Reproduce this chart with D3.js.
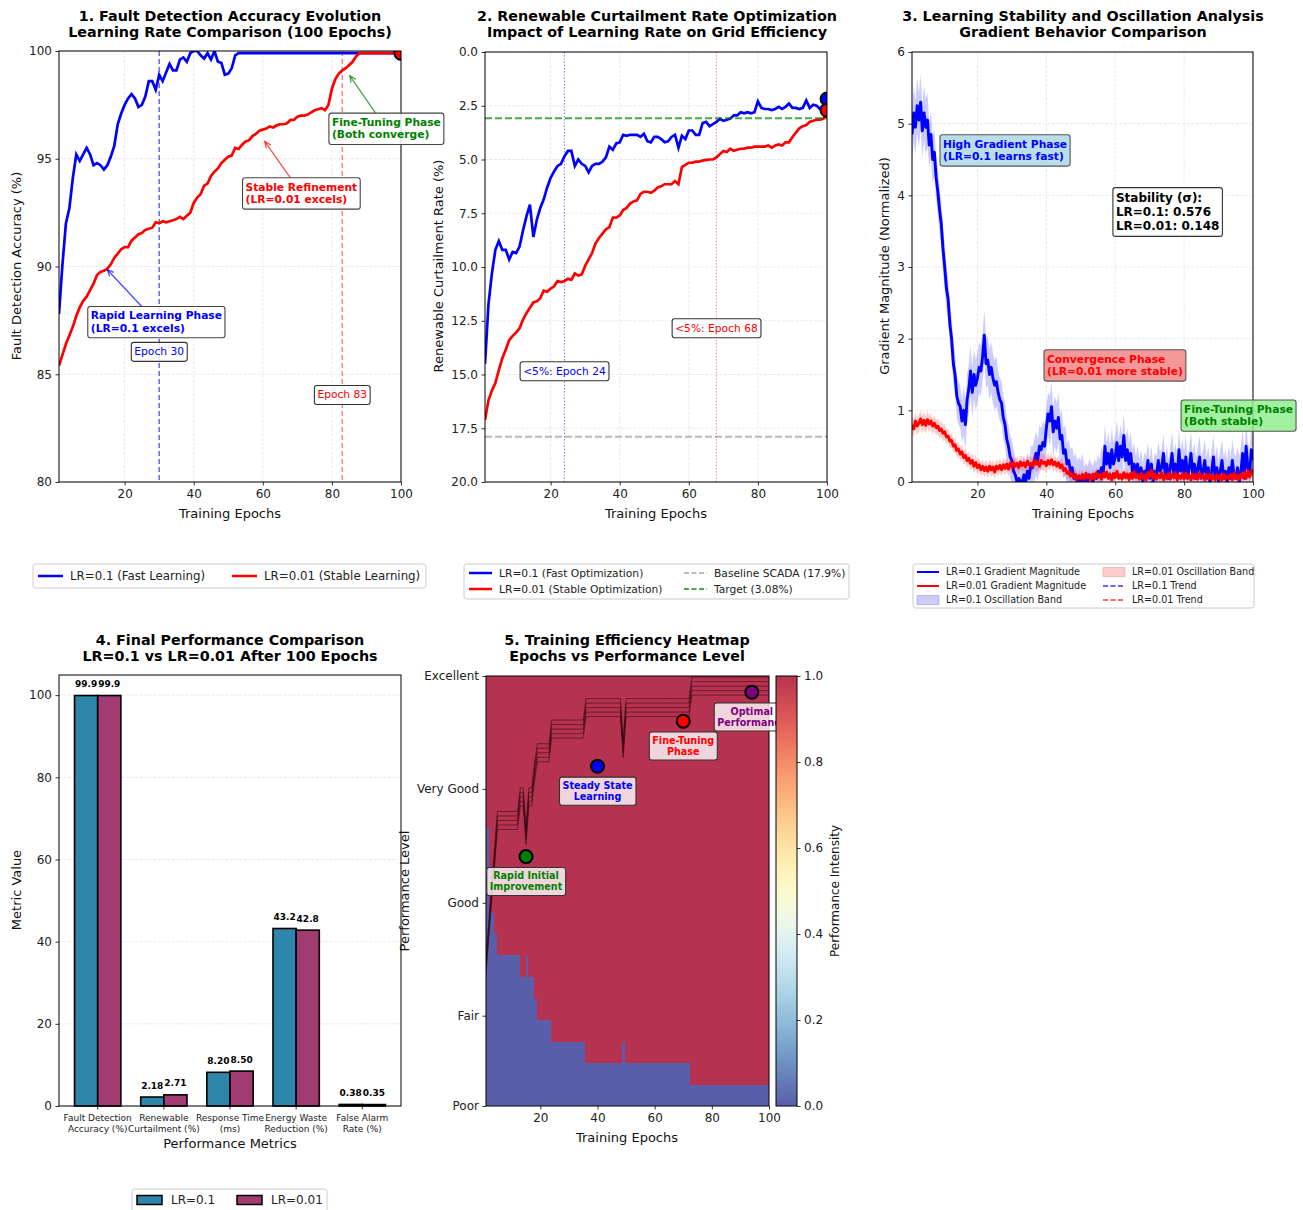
<!DOCTYPE html>
<html>
<head>
<meta charset="utf-8">
<script src="https://cdn.jsdelivr.net/npm/d3@7"></script>
<style>
  body { margin: 0; background: #fff; }
</style>
</head>
<body>
<script>
// ---------------- data ----------------
const epochs = d3.range(1, 101);
const fineEpochs = d3.range(1, 100.001, 0.5);

// 1. Fault detection accuracy (%)
const accFast = [
  87.8, 90.1, 92.0, 92.7, 94.1, 95.2, 94.9, 95.2, 95.5, 95.2,
  94.7, 94.8, 94.7, 94.5, 94.7, 95.1, 95.6, 96.6, 97.1, 97.5,
  97.8, 98.0, 97.8, 97.4, 97.5, 97.9, 98.6, 98.6, 98.2, 98.9,
  98.6, 99.0, 99.4, 99.1, 99.1, 99.6, 99.7, 99.5, 99.9, 100.0,
  100.0, 99.8, 99.65, 99.9, 99.6, 100.0, 99.5, 99.45, 98.9, 98.95,
  99.2, 99.8, 99.9, 99.9, 99.9, 99.9, 99.9, 99.9, 99.9, 99.9,
  99.9, 99.9, 99.9, 99.9, 99.9, 99.9, 99.9, 99.9, 99.9, 99.9,
  99.9, 99.9, 99.9, 99.9, 99.9, 99.9, 99.9, 99.9, 99.9, 99.9,
  99.9, 99.9, 99.9, 99.9, 99.9, 99.9, 99.9, 99.9, 99.9, 99.9,
  99.9, 99.9, 99.9, 99.9, 99.9, 99.9, 99.9, 99.9, 99.9, 99.9
];
const accStable = [
  85.4, 85.9, 86.4, 86.8, 87.2, 87.7, 88.1, 88.4, 88.6, 88.9,
  89.2, 89.6, 89.75, 89.8, 89.9, 90.1, 90.4, 90.6, 90.8, 90.9,
  90.9, 91.2, 91.35, 91.5, 91.55, 91.7, 91.75, 91.8, 92.05, 92.0,
  92.1, 92.05, 92.1, 92.15, 92.2, 92.3, 92.2, 92.35, 92.5, 92.95,
  93.2, 93.35, 93.75, 93.85, 94.2, 94.4, 94.55, 94.8, 94.95, 95.1,
  95.15, 95.5, 95.45, 95.65, 95.8, 95.85, 96.05, 96.15, 96.3, 96.35,
  96.4, 96.5, 96.45, 96.55, 96.6, 96.6, 96.65, 96.8, 96.8, 96.95,
  97.0, 97.0, 97.05, 97.15, 97.25, 97.3, 97.35, 97.25, 97.5, 98.25,
  98.7, 98.95, 99.1, 99.2, 99.35, 99.5, 99.75, 99.9, 99.9, 99.9,
  99.9, 99.9, 99.9, 99.9, 99.9, 99.9, 99.9, 99.9, 99.9, 99.9
];

// 2. Renewable curtailment rate (%)
const curtFast = [
  14.5, 11.75, 10.3, 9.2, 8.8, 9.2, 9.2, 9.65, 9.3, 9.35,
  9.05, 8.3, 7.65, 7.1, 8.6, 7.8, 7.25, 6.85, 6.3, 5.85,
  5.55, 5.3, 5.2, 4.85, 4.6, 4.6, 5.3, 5.0, 5.2, 5.3,
  5.6, 5.3, 5.2, 5.2, 5.1, 4.9, 4.4, 4.55, 4.25, 4.2,
  3.85, 3.9, 3.85, 3.85, 3.85, 3.95, 3.8, 4.15, 4.2, 3.95,
  3.95, 4.05, 4.2, 4.15, 3.95, 3.85, 4.45, 3.9, 4.05, 3.65,
  3.65, 3.85, 3.85, 3.3, 3.25, 3.45, 3.35, 3.25, 3.1, 3.2,
  3.15, 3.1, 2.95, 2.95, 2.8, 2.85, 2.8, 2.85, 2.8, 2.3,
  2.6, 2.65, 2.65, 2.7, 2.65, 2.55, 2.65, 2.55, 2.4, 2.6,
  2.6, 2.65, 2.6, 2.25, 2.6, 2.45, 2.5, 2.65, 2.45, 2.18
];
const curtStable = [
  17.1, 16.2, 15.75, 15.4, 14.8, 14.25, 13.85, 13.4, 13.2, 13.05,
  12.85, 12.45, 12.15, 11.9, 11.65, 11.6, 11.45, 11.1, 11.15, 11.0,
  10.9, 10.65, 10.7, 10.65, 10.55, 10.6, 10.3, 10.4, 10.35, 9.95,
  9.65, 9.35, 8.9, 8.65, 8.45, 8.25, 8.15, 7.7, 7.7, 7.6,
  7.35, 7.25, 7.05, 6.95, 6.9, 6.6, 6.5, 6.5, 6.55, 6.45,
  6.3, 6.25, 6.15, 6.15, 6.15, 6.0, 6.15, 5.35, 5.25, 5.15,
  5.15, 5.1, 5.1, 5.05, 5.02, 5.0, 5.0, 4.9, 4.75, 4.6,
  4.65, 4.5, 4.6, 4.55, 4.5, 4.5, 4.45, 4.45, 4.4, 4.4,
  4.4, 4.4, 4.35, 4.45, 4.35, 4.3, 4.35, 4.2, 4.2, 3.95,
  3.75, 3.55, 3.45, 3.4, 3.25, 3.2, 3.15, 3.15, 3.1, 2.71
];
const baselineScada = 17.9;
const targetCurt = 3.08;

// 3. Gradient magnitude, sampled every half epoch
const gradFast = [
  4.85, 5.15, 4.95, 5.25, 5.05, 5.30, 4.90, 5.15, 4.95, 5.05,
  4.70, 4.85, 4.50, 4.60, 4.25, 4.05, 3.80, 3.60, 3.25, 3.00,
  2.70, 2.55, 2.20, 2.00, 1.65, 1.50, 1.20, 1.10, 1.05, 0.85,
  1.00, 0.80, 1.15, 1.30, 1.55, 1.25, 1.50, 1.35, 1.45, 1.60,
  1.55, 1.75, 2.05, 1.65, 1.70, 1.50, 1.60, 1.45, 1.35, 1.40,
  1.25, 1.15, 1.10, 0.90, 0.80, 0.60, 0.50, 0.35, 0.30, 0.15,
  0.10, 0.00, 0.05, 0.00, 0.00, 0.10, 0.00, 0.15, 0.05, 0.25,
  0.20, 0.30, 0.40, 0.30, 0.50, 0.45, 0.55, 0.50, 0.75, 0.95,
  0.85, 1.05, 0.70, 0.85, 0.75, 0.90, 0.60, 0.65, 0.40, 0.45,
  0.25, 0.30, 0.15, 0.20, 0.05, 0.10, 0.00, 0.05, 0.00, 0.10,
  0.00, 0.05, 0.00, 0.10, 0.05, 0.00, 0.10, 0.05, 0.15, 0.10,
  0.20, 0.10, 0.50, 0.25, 0.40, 0.20, 0.45, 0.25, 0.35, 0.55,
  0.30, 0.50, 0.35, 0.65, 0.30, 0.45, 0.25, 0.40, 0.15, 0.25,
  0.10, 0.25, 0.05, 0.20, 0.00, 0.15, 0.10, 0.30, 0.05, 0.25,
  0.00, 0.15, 0.10, 0.30, 0.15, 0.20, 0.40, 0.10, 0.25, 0.05,
  0.20, 0.40, 0.10, 0.25, 0.05, 0.45, 0.15, 0.30, 0.10, 0.35,
  0.05, 0.20, 0.40, 0.10, 0.25, 0.05, 0.20, 0.35, 0.05, 0.15,
  0.30, 0.05, 0.20, 0.00, 0.15, 0.35, 0.05, 0.20, 0.00, 0.15,
  0.30, 0.05, 0.15, 0.00, 0.20, 0.05, 0.30, 0.10, 0.05, 0.20,
  0.00, 0.15, 0.40, 0.05, 0.50, 0.20, 0.10, 0.45, 0.30
];
const gradStable = [
  0.80, 0.74, 0.85, 0.78, 0.82, 0.88, 0.80, 0.86, 0.79, 0.87,
  0.81, 0.85, 0.78, 0.82, 0.76, 0.78, 0.72, 0.74, 0.68, 0.70,
  0.63, 0.64, 0.57, 0.58, 0.50, 0.52, 0.44, 0.46, 0.39, 0.42,
  0.34, 0.37, 0.30, 0.33, 0.26, 0.30, 0.22, 0.27, 0.20, 0.24,
  0.17, 0.22, 0.16, 0.21, 0.15, 0.22, 0.17, 0.21, 0.14, 0.22,
  0.18, 0.23, 0.17, 0.24, 0.19, 0.25, 0.18, 0.26, 0.21, 0.27,
  0.22, 0.26, 0.20, 0.28, 0.23, 0.27, 0.21, 0.29, 0.24, 0.26,
  0.22, 0.30, 0.25, 0.28, 0.22, 0.30, 0.26, 0.28, 0.23, 0.30,
  0.25, 0.31, 0.24, 0.28, 0.22, 0.27, 0.20, 0.24, 0.16, 0.19,
  0.12, 0.14, 0.08, 0.11, 0.06, 0.10, 0.04, 0.09, 0.05, 0.10,
  0.04, 0.12, 0.06, 0.09, 0.03, 0.11, 0.05, 0.13, 0.06, 0.10,
  0.04, 0.12, 0.07, 0.14, 0.05, 0.11, 0.03, 0.12, 0.06, 0.15,
  0.05, 0.10, 0.04, 0.13, 0.06, 0.11, 0.03, 0.12, 0.05, 0.14,
  0.06, 0.10, 0.04, 0.12, 0.05, 0.09, 0.03, 0.13, 0.07, 0.16,
  0.05, 0.11, 0.04, 0.10, 0.06, 0.13, 0.03, 0.09, 0.05, 0.12,
  0.04, 0.10, 0.06, 0.13, 0.03, 0.09, 0.05, 0.11, 0.04, 0.12,
  0.06, 0.09, 0.03, 0.11, 0.05, 0.10, 0.04, 0.12, 0.06, 0.09,
  0.03, 0.10, 0.05, 0.11, 0.04, 0.08, 0.03, 0.10, 0.05, 0.09,
  0.03, 0.11, 0.04, 0.08, 0.05, 0.10, 0.03, 0.12, 0.05, 0.09,
  0.04, 0.11, 0.06, 0.13, 0.05, 0.15, 0.07, 0.12, 0.18
];
// oscillation half-width, one value per 5-epoch block
const bandFast = [0.38, 0.32, 0.3, 0.35, 0.35, 0.3, 0.25, 0.3, 0.35, 0.3,
                  0.22, 0.3, 0.3, 0.26, 0.26, 0.3, 0.3, 0.3, 0.3, 0.35];
const bandStable = [0.12, 0.11, 0.1, 0.1, 0.1, 0.1, 0.1, 0.11, 0.1, 0.09,
                    0.08, 0.08, 0.08, 0.08, 0.08, 0.08, 0.08, 0.08, 0.08, 0.09];
const sigmaFast = 0.576, sigmaStable = 0.148;

// 4. Final metrics
const metrics = ['Fault Detection\nAccuracy (%)', 'Renewable\nCurtailment (%)', 'Response Time\n(ms)',
                 'Energy Waste\nReduction (%)', 'False Alarm\nRate (%)'];
const finalFast = [99.9, 2.18, 8.20, 43.2, 0.38];
const finalStable = [99.9, 2.71, 8.50, 42.8, 0.35];

// 5. Heatmap: per epoch column, number of low-intensity rows (0.2 level each)
const lowRows = [
  13, 9, 9, 8, 7, 7, 7, 7, 7, 7,
  7, 7, 6, 6, 7, 6, 6, 5, 4, 4,
  4, 4, 4, 3, 3, 3, 3, 3, 3, 3,
  3, 3, 3, 3, 3, 2, 2, 2, 2, 2,
  2, 2, 2, 2, 2, 2, 2, 2, 3, 2,
  2, 2, 2, 2, 2, 2, 2, 2, 2, 2,
  2, 2, 2, 2, 2, 2, 2, 2, 2, 2,
  2, 2, 1, 1, 1, 1, 1, 1, 1, 1,
  1, 1, 1, 1, 1, 1, 1, 1, 1, 1,
  1, 1, 1, 1, 1, 1, 1, 1, 1, 1
];
// performance level front per epoch (contour bundle top)
const levelFront = [
  1.39, 1.73, 2.07, 2.40, 2.74, 2.74, 2.74, 2.74, 2.74, 2.74,
  2.74, 2.74, 2.96, 2.96, 2.60, 2.96, 2.96, 3.20, 3.37, 3.37,
  3.37, 3.37, 3.37, 3.59, 3.59, 3.59, 3.59, 3.59, 3.59, 3.59,
  3.59, 3.59, 3.59, 3.59, 3.59, 3.79, 3.79, 3.79, 3.79, 3.79,
  3.79, 3.79, 3.79, 3.79, 3.79, 3.79, 3.79, 3.79, 3.41, 3.79,
  3.79, 3.79, 3.79, 3.79, 3.79, 3.79, 3.79, 3.79, 3.79, 3.79,
  3.79, 3.79, 3.79, 3.79, 3.79, 3.79, 3.79, 3.79, 3.79, 3.79,
  3.79, 3.79, 3.99, 3.99, 3.99, 3.99, 3.99, 3.99, 3.99, 3.99,
  3.99, 3.99, 3.99, 3.99, 3.99, 3.99, 3.99, 3.99, 3.99, 3.99,
  3.99, 3.99, 3.99, 3.99, 3.99, 3.99, 3.99, 3.99, 3.99, 3.99
];
const levelNames = ['Poor', 'Fair', 'Good', 'Very Good', 'Excellent'];
const levelTicks = [0, 0.84, 1.89, 2.95, 4];
const phases = [
  {epoch: 15, level: 2.32, color: 'green',  text: ['Rapid Initial', 'Improvement']},
  {epoch: 40, level: 3.16, color: 'blue',   text: ['Steady State', 'Learning']},
  {epoch: 70, level: 3.58, color: 'red',    text: ['Fine-Tuning', 'Phase']},
  {epoch: 94, level: 3.85, color: 'purple', text: ['Optimal', 'Performance']}
];

// ---------------- drawing helpers ----------------
const FONT = '"DejaVu Sans", Verdana, sans-serif';
const TICK = 12, LABEL = 13, TITLE = 14.3;
const svg = d3.select('body').append('svg')
  .attr('width', 1303).attr('height', 1210)
  .style('font-family', FONT);
const defs = svg.append('defs');

function clipFor(id, p) {
  defs.append('clipPath').attr('id', id).append('rect')
    .attr('x', p.l).attr('y', p.t).attr('width', p.r - p.l).attr('height', p.b - p.t);
  return `url(#${id})`;
}
function title(cx, cy, lines) {
  const t = svg.append('text').attr('text-anchor', 'middle')
    .attr('font-size', TITLE).attr('font-weight', 'bold').attr('fill', '#000');
  lines.forEach((s, i) => t.append('tspan').attr('x', cx).attr('y', cy + i * 16).attr('dy', '0.35em').text(s));
}
function xLabel(cx, cy, s, size = LABEL) {
  svg.append('text').attr('x', cx).attr('y', cy).attr('dy', '0.35em')
    .attr('text-anchor', 'middle').attr('font-size', size).attr('fill', '#111').text(s);
}
function yLabel(cx, cy, s, size = LABEL) {
  svg.append('text').attr('transform', `translate(${cx},${cy}) rotate(-90)`)
    .attr('dy', '0.35em').attr('text-anchor', 'middle').attr('font-size', size).attr('fill', '#111').text(s);
}
function styleAxis(ax, size = TICK) {
  ax.attr('font-family', FONT).attr('font-size', size);
  ax.select('.domain').remove();
  ax.selectAll('text').attr('fill', '#222');
  ax.selectAll('line').attr('stroke', '#000').attr('stroke-width', 0.8);
}
function xAxis(p, scale, ticks, fmt) {
  const a = d3.axisBottom(scale).tickValues(ticks).tickSize(3.5).tickPadding(3.5);
  if (fmt) a.tickFormat(fmt);
  const ax = svg.append('g').attr('transform', `translate(0,${p.b})`).call(a);
  styleAxis(ax);
  return ax;
}
function yAxis(p, scale, ticks, fmt, size = TICK) {
  const a = d3.axisLeft(scale).tickValues(ticks).tickSize(3.5).tickPadding(3.5);
  if (fmt) a.tickFormat(fmt);
  const ax = svg.append('g').attr('transform', `translate(${p.l},0)`).call(a);
  styleAxis(ax, size);
  return ax;
}
function grid(p, xs, xt, ys, yt) {
  const g = svg.append('g').attr('stroke', '#b0b0b0').attr('stroke-opacity', 0.35)
    .attr('stroke-width', 0.8).attr('stroke-dasharray', '3,1.5');
  if (xs) xt.forEach(v => g.append('line').attr('x1', xs(v)).attr('x2', xs(v)).attr('y1', p.t).attr('y2', p.b));
  if (ys) yt.forEach(v => g.append('line').attr('x1', p.l).attr('x2', p.r).attr('y1', ys(v)).attr('y2', ys(v)));
}
function frame(p) {
  svg.append('rect').attr('x', p.l).attr('y', p.t).attr('width', p.r - p.l).attr('height', p.b - p.t)
    .attr('fill', 'none').attr('stroke', '#000').attr('stroke-width', 1);
}
function note(o) {
  const grp = svg.append('g');
  const rect = grp.append('rect');
  const size = o.size || 10, n = o.lines.length, lh = size * (o.lh || 1.15);
  const t = grp.append('text').attr('font-size', size).attr('font-weight', o.weight || 'normal')
    .attr('fill', o.color).attr('text-anchor', o.anchor || 'start');
  o.lines.forEach((s, i) => t.append('tspan').attr('x', o.x).attr('y', o.y + (i - (n - 1) / 2) * lh)
    .attr('dy', '0.35em').text(s));
  const bb = t.node().getBBox(), pad = o.pad ?? 3;
  const box = {x: bb.x - pad, y: bb.y - pad, w: bb.width + 2 * pad, h: bb.height + 2 * pad};
  rect.attr('x', box.x).attr('y', box.y).attr('width', box.w).attr('height', box.h)
    .attr('rx', 2.5).attr('fill', o.face || 'white').attr('fill-opacity', o.faceOpacity ?? 0.85)
    .attr('stroke', o.edge || '#444').attr('stroke-width', 1.1);
  return box;
}
function arrow(box, tx, ty, color, opacity = 0.7) {
  const cx = box.x + box.w / 2, cy = box.y + box.h / 2, dx = tx - cx, dy = ty - cy;
  let s = Infinity;
  if (dx) s = Math.min(s, ((dx > 0 ? box.x + box.w : box.x) - cx) / dx);
  if (dy) s = Math.min(s, ((dy > 0 ? box.y + box.h : box.y) - cy) / dy);
  const sx = cx + dx * s, sy = cy + dy * s;
  const g = svg.append('g').attr('stroke', color).attr('stroke-opacity', opacity)
    .attr('stroke-width', 1.3).attr('fill', 'none');
  g.append('line').attr('x1', sx).attr('y1', sy).attr('x2', tx).attr('y2', ty);
  const a = Math.atan2(ty - sy, tx - sx), L = 7, w = 0.42;
  g.append('path').attr('d',
    `M${tx - L * Math.cos(a - w)},${ty - L * Math.sin(a - w)}L${tx},${ty}L${tx - L * Math.cos(a + w)},${ty - L * Math.sin(a + w)}`);
}
function legendBox(x, y, w, h) {
  svg.append('rect').attr('x', x).attr('y', y).attr('width', w).attr('height', h).attr('rx', 2.5)
    .attr('fill', 'white').attr('fill-opacity', 0.8).attr('stroke', '#cccccc').attr('stroke-width', 1);
}
function legendItem(x, y, kind, color, label, size, opts = {}) {
  const hw = opts.hw || 24;
  if (kind === 'line' || kind === 'dash') {
    svg.append('line').attr('x1', x).attr('x2', x + hw).attr('y1', y).attr('y2', y)
      .attr('stroke', color).attr('stroke-width', opts.lw || 2.5).attr('stroke-opacity', opts.op ?? 1)
      .attr('stroke-dasharray', kind === 'dash' ? '5,2.5' : null);
  } else {
    svg.append('rect').attr('x', x).attr('y', y - (opts.ph || 8) / 2).attr('width', hw).attr('height', opts.ph || 8)
      .attr('fill', color).attr('fill-opacity', opts.op ?? 1)
      .attr('stroke', opts.edge || color).attr('stroke-width', opts.ew || 1);
  }
  svg.append('text').attr('x', x + hw + (opts.gap || 7)).attr('y', y).attr('dy', '0.35em')
    .attr('font-size', size).attr('fill', '#222').text(label);
}

// ---------------- 1. fault detection accuracy ----------------
{
  const p = {l: 59, r: 401, t: 51, b: 482};
  const x = d3.scaleLinear([1, 100], [p.l, p.r]);
  const y = d3.scaleLinear([80, 100], [p.b, p.t]);
  const xt = [20, 40, 60, 80, 100], yt = [80, 85, 90, 95, 100];
  grid(p, x, xt, y, yt);
  const clip = clipFor('clip1', p);
  const g = svg.append('g').attr('clip-path', clip);
  const line = d3.line().x((d, i) => x(epochs[i])).y(d => y(d));
  g.append('line').attr('x1', x(30)).attr('x2', x(30)).attr('y1', p.t).attr('y2', p.b)
    .attr('stroke', 'blue').attr('stroke-opacity', 0.7).attr('stroke-width', 1.3).attr('stroke-dasharray', '5,3');
  g.append('line').attr('x1', x(83)).attr('x2', x(83)).attr('y1', p.t).attr('y2', p.b)
    .attr('stroke', 'red').attr('stroke-opacity', 0.55).attr('stroke-width', 1.3).attr('stroke-dasharray', '5,3');
  g.append('path').datum(accFast).attr('d', line).attr('fill', 'none').attr('stroke', '#0000ff').attr('stroke-width', 2.7);
  g.append('path').datum(accStable).attr('d', line).attr('fill', 'none').attr('stroke', '#ff0000').attr('stroke-width', 2.7);
  g.append('circle').attr('cx', x(100)).attr('cy', y(accFast[99])).attr('r', 6.5)
    .attr('fill', 'blue').attr('stroke', '#000').attr('stroke-width', 1.8);
  g.append('circle').attr('cx', x(100)).attr('cy', y(accStable[99])).attr('r', 6.5)
    .attr('fill', 'red').attr('stroke', '#000').attr('stroke-width', 1.8);
  frame(p);
  xAxis(p, x, xt);
  yAxis(p, y, yt);
  title(230, 16, ['1. Fault Detection Accuracy Evolution', 'Learning Rate Comparison (100 Epochs)']);
  xLabel(230, 513, 'Training Epochs');
  yLabel(16, 266, 'Fault Detection Accuracy (%)');

  note({x: x(30), y: y(86.05), lines: ['Epoch 30'], anchor: 'middle', color: 'blue', size: 10.7, edge: '#333'});
  note({x: x(83), y: y(84.05), lines: ['Epoch 83'], anchor: 'middle', color: 'red', size: 10.7, edge: '#333'});
  const b1 = note({x: x(10.2), y: y(87.43), lines: ['Rapid Learning Phase', '(LR=0.1 excels)'],
    color: 'blue', weight: 'bold', size: 10.7, edge: '#444'});
  arrow(b1, x(15), y(89.85), 'blue');
  const b2 = note({x: x(55.0), y: y(93.4), lines: ['Stable Refinement', '(LR=0.01 excels)'],
    color: 'red', weight: 'bold', size: 10.7, edge: '#444'});
  arrow(b2, x(60.6), y(95.8), 'red');
  const b3 = note({x: x(80.0), y: y(96.4), lines: ['Fine-Tuning Phase', '(Both converge)'],
    color: 'green', weight: 'bold', size: 10.7, edge: '#444'});
  arrow(b3, x(85.2), y(98.85), 'green');

  legendBox(33, 564, 393, 24);
  legendItem(38, 576, 'line', 'blue', 'LR=0.1 (Fast Learning)', 11.8, {hw: 25});
  legendItem(232, 576, 'line', 'red', 'LR=0.01 (Stable Learning)', 11.8, {hw: 25});
}

// ---------------- 2. renewable curtailment ----------------
{
  const p = {l: 485, r: 827, t: 52, b: 482};
  const x = d3.scaleLinear([1, 100], [p.l, p.r]);
  const y = d3.scaleLinear([0, 20], [p.t, p.b]);
  const xt = [20, 40, 60, 80, 100], yt = [0, 2.5, 5, 7.5, 10, 12.5, 15, 17.5, 20];
  grid(p, x, xt, y, yt);
  const g = svg.append('g').attr('clip-path', clipFor('clip2', p));
  const line = d3.line().x((d, i) => x(epochs[i])).y(d => y(d));
  g.append('line').attr('x1', p.l).attr('x2', p.r).attr('y1', y(baselineScada)).attr('y2', y(baselineScada))
    .attr('stroke', 'gray').attr('stroke-opacity', 0.55).attr('stroke-width', 2).attr('stroke-dasharray', '7,3');
  g.append('line').attr('x1', x(24)).attr('x2', x(24)).attr('y1', p.t).attr('y2', p.b)
    .attr('stroke', 'blue').attr('stroke-opacity', 0.55).attr('stroke-width', 1.2).attr('stroke-dasharray', '1.2,2');
  g.append('line').attr('x1', x(68)).attr('x2', x(68)).attr('y1', p.t).attr('y2', p.b)
    .attr('stroke', 'red').attr('stroke-opacity', 0.5).attr('stroke-width', 1.2).attr('stroke-dasharray', '1.2,2');
  g.append('path').datum(curtFast).attr('d', line).attr('fill', 'none').attr('stroke', '#0000ff').attr('stroke-width', 2.7);
  g.append('path').datum(curtStable).attr('d', line).attr('fill', 'none').attr('stroke', '#ff0000').attr('stroke-width', 2.7);
  g.append('line').attr('x1', p.l).attr('x2', p.r).attr('y1', y(targetCurt)).attr('y2', y(targetCurt))
    .attr('stroke', 'green').attr('stroke-opacity', 0.7).attr('stroke-width', 2).attr('stroke-dasharray', '7,3');
  g.append('circle').attr('cx', x(100)).attr('cy', y(curtFast[99])).attr('r', 6.5)
    .attr('fill', 'blue').attr('stroke', '#000').attr('stroke-width', 1.8);
  g.append('circle').attr('cx', x(100)).attr('cy', y(curtStable[99])).attr('r', 6.5)
    .attr('fill', 'red').attr('stroke', '#000').attr('stroke-width', 1.8);
  frame(p);
  xAxis(p, x, xt);
  yAxis(p, y, yt, d3.format('.1f'));
  title(657, 16, ['2. Renewable Curtailment Rate Optimization', 'Impact of Learning Rate on Grid Efficiency']);
  xLabel(656, 513, 'Training Epochs');
  yLabel(438, 266, 'Renewable Curtailment Rate (%)');
  note({x: x(24), y: y(14.84), lines: ['<5%: Epoch 24'], anchor: 'middle', color: 'blue', size: 10.7, edge: '#333'});
  note({x: x(68), y: y(12.84), lines: ['<5%: Epoch 68'], anchor: 'middle', color: 'red', size: 10.7, edge: '#333'});

  legendBox(464, 564, 385, 35);
  legendItem(469, 573, 'line', 'blue', 'LR=0.1 (Fast Optimization)', 10.7, {hw: 23});
  legendItem(469, 589, 'line', 'red', 'LR=0.01 (Stable Optimization)', 10.7, {hw: 23});
  legendItem(684, 573, 'dash', 'gray', 'Baseline SCADA (17.9%)', 10.7, {hw: 23, lw: 2, op: 0.55});
  legendItem(684, 589, 'dash', 'green', 'Target (3.08%)', 10.7, {hw: 23, lw: 2, op: 0.7});
}

// ---------------- 3. gradient stability ----------------
{
  const p = {l: 912, r: 1253, t: 52, b: 482};
  const x = d3.scaleLinear([1, 100], [p.l, p.r]);
  const y = d3.scaleLinear([0, 6], [p.b, p.t]);
  const xt = [20, 40, 60, 80, 100], yt = [0, 1, 2, 3, 4, 5, 6];
  grid(p, x, xt, y, yt);
  const g = svg.append('g').attr('clip-path', clipFor('clip3', p));
  const blk = e => Math.min(19, Math.floor((e - 1) / 5));
  const band = (vals, hw) => d3.area()
    .x((d, i) => x(fineEpochs[i]))
    .y0((d, i) => y(d - hw[blk(fineEpochs[i])]))
    .y1((d, i) => y(d + hw[blk(fineEpochs[i])]));
  const line = d3.line().x((d, i) => x(fineEpochs[i])).y(d => y(d));
  g.append('path').datum(gradFast).attr('d', band(gradFast, bandFast)).attr('fill', 'blue').attr('fill-opacity', 0.2);
  g.append('path').datum(gradFast).attr('d', line).attr('fill', 'none').attr('stroke', '#0000ff')
    .attr('stroke-width', 2.9).attr('stroke-linejoin', 'round');
  g.append('path').datum(gradStable).attr('d', band(gradStable, bandStable)).attr('fill', 'red').attr('fill-opacity', 0.2);
  g.append('path').datum(gradStable).attr('d', line).attr('fill', 'none').attr('stroke', '#ff0000')
    .attr('stroke-width', 2.9).attr('stroke-linejoin', 'round');
  frame(p);
  xAxis(p, x, xt);
  yAxis(p, y, yt, d3.format('d'));
  title(1083, 16, ['3. Learning Stability and Oscillation Analysis', 'Gradient Behavior Comparison']);
  xLabel(1083, 513, 'Training Epochs');
  yLabel(884, 266, 'Gradient Magnitude (Normalized)');

  note({x: x(10), y: y(4.63), lines: ['High Gradient Phase', '(LR=0.1 learns fast)'],
    color: 'blue', weight: 'bold', size: 10.7, face: '#add8e6', faceOpacity: 0.85, edge: '#555'});
  note({x: x(60.2), y: y(3.77), lines: ['Stability (\u03c3):', `LR=0.1: ${sigmaFast.toFixed(3)}`, `LR=0.01: ${sigmaStable.toFixed(3)}`],
    color: '#000', weight: 'bold', size: 12, lh: 1.2, face: 'white', faceOpacity: 0.9, edge: '#333'});
  note({x: x(40.2), y: y(1.63), lines: ['Convergence Phase', '(LR=0.01 more stable)'],
    color: 'red', weight: 'bold', size: 10.7, face: '#f08080', faceOpacity: 0.8, edge: '#555'});
  note({x: x(80), y: y(0.93), lines: ['Fine-Tuning Phase', '(Both stable)'],
    color: 'green', weight: 'bold', size: 10.7, face: '#90ee90', faceOpacity: 0.85, edge: '#555'});

  legendBox(913, 564, 341, 44);
  legendItem(917, 572, 'line', 'blue', 'LR=0.1 Gradient Magnitude', 9.6, {hw: 22, lw: 2});
  legendItem(917, 586, 'line', 'red', 'LR=0.01 Gradient Magnitude', 9.6, {hw: 22, lw: 2});
  legendItem(917, 600, 'patch', 'blue', 'LR=0.1 Oscillation Band', 9.6, {hw: 22, op: 0.2, ph: 9, edge: 'rgba(0,0,255,0.2)'});
  legendItem(1103, 572, 'patch', 'red', 'LR=0.01 Oscillation Band', 9.6, {hw: 22, op: 0.2, ph: 9, edge: 'rgba(255,0,0,0.2)'});
  legendItem(1103, 586, 'dash', 'blue', 'LR=0.1 Trend', 9.6, {hw: 22, lw: 2, op: 0.6});
  legendItem(1103, 600, 'dash', 'red', 'LR=0.01 Trend', 9.6, {hw: 22, lw: 2, op: 0.6});
}

// ---------------- 4. final performance bars ----------------
{
  const p = {l: 59, r: 401, t: 675, b: 1106};
  const bw = 0.35;
  const x = d3.scaleLinear([-0.585, 4.585], [p.l, p.r]);
  const y = d3.scaleLinear([0, 104.9], [p.b, p.t]);
  const yt = [0, 20, 40, 60, 80, 100];
  grid(p, null, [], y, yt);
  const fmt = v => (v >= 10 ? v.toFixed(1) : v.toFixed(2));
  const series = [{vals: finalFast, off: -bw, color: '#2e86ab'}, {vals: finalStable, off: 0, color: '#a23b72'}];
  series.forEach(s => {
    svg.append('g').selectAll('rect').data(s.vals).join('rect')
      .attr('x', (d, i) => x(i + s.off)).attr('width', (d, i) => x(i + s.off + bw) - x(i + s.off))
      .attr('y', d => y(d)).attr('height', d => y(0) - y(d))
      .attr('fill', s.color).attr('stroke', '#000').attr('stroke-width', 1.6);
    svg.append('g').selectAll('text').data(s.vals).join('text')
      .attr('x', (d, i) => x(i + s.off + bw / 2)).attr('y', d => y(d) - 8.5)
      .attr('text-anchor', 'middle').attr('font-size', 9).attr('font-weight', 'bold').attr('fill', '#000')
      .text(fmt);
  });
  frame(p);
  const ax = svg.append('g');
  metrics.forEach((m, i) => {
    ax.append('line').attr('x1', x(i)).attr('x2', x(i)).attr('y1', p.b).attr('y2', p.b + 3.5)
      .attr('stroke', '#000').attr('stroke-width', 0.8);
    const t = ax.append('text').attr('text-anchor', 'middle').attr('font-size', 9).attr('fill', '#222');
    m.split('\n').forEach((s, k) => t.append('tspan').attr('x', x(i)).attr('y', 1118 + k * 10.5).attr('dy', '0.35em').text(s));
  });
  yAxis(p, y, yt);
  title(230, 640, ['4. Final Performance Comparison', 'LR=0.1 vs LR=0.01 After 100 Epochs']);
  xLabel(230, 1143, 'Performance Metrics');
  yLabel(16, 890, 'Metric Value');

  legendBox(132, 1189, 195, 26);
  legendItem(137, 1200, 'patch', '#2e86ab', 'LR=0.1', 12, {hw: 25, ph: 9, edge: '#000', ew: 1.5, gap: 9});
  legendItem(237, 1200, 'patch', '#a23b72', 'LR=0.01', 12, {hw: 25, ph: 9, edge: '#000', ew: 1.5, gap: 9});
}

// ---------------- 5. training efficiency heatmap ----------------
{
  const p = {l: 486, r: 769, t: 676, b: 1106};
  const x = d3.scaleLinear([1, 100], [p.l, p.r]);
  const y = d3.scaleLinear([0, 4], [p.b, p.t]);
  const color = v => d3.interpolateRdYlBu(1 - v);
  const colW = 99 / 100, rowH = 0.2, nRows = 20;
  const cells = [];
  lowRows.forEach((n, i) => {
    for (let r = 0; r < nRows; r++) cells.push({i, r, v: r < n ? 0 : 1});
  });
  const hm = svg.append('g').attr('opacity', 0.8);
  hm.selectAll('rect').data(cells).join('rect')
    .attr('x', d => Math.round(x(1 + d.i * colW)))
    .attr('width', d => Math.round(x(1 + (d.i + 1) * colW)) - Math.round(x(1 + d.i * colW)))
    .attr('y', d => Math.round(y((d.r + 1) * rowH)))
    .attr('height', d => Math.round(y(d.r * rowH)) - Math.round(y((d.r + 1) * rowH)))
    .attr('fill', d => color(d.v)).attr('shape-rendering', 'crispEdges');

  const cg = svg.append('g').attr('clip-path', clipFor('clip5', p));
  d3.range(5).forEach(k => {
    cg.append('path').datum(levelFront)
      .attr('d', d3.line().x((d, i) => x(epochs[i])).y(d => y(d - k * 0.042)))
      .attr('fill', 'none').attr('stroke', '#2b0610').attr('stroke-opacity', 0.75).attr('stroke-width', 0.7);
  });
  frame(p);

  phases.forEach(ph => {
    svg.append('circle').attr('cx', x(ph.epoch)).attr('cy', y(ph.level)).attr('r', 6.5)
      .attr('fill', ph.color).attr('stroke', '#000').attr('stroke-width', 2);
    note({x: x(ph.epoch), y: y(ph.level) + 25, lines: ph.text, anchor: 'middle', color: ph.color,
      weight: 'bold', size: 9.6, lh: 1.15, face: 'white', faceOpacity: 0.8, edge: '#333'});
  });

  xAxis(p, x, [20, 40, 60, 80, 100]);
  const ay = svg.append('g').attr('transform', `translate(${p.l},0)`)
    .call(d3.axisLeft(y).tickValues(levelTicks).tickFormat((d, i) => levelNames[i]).tickSize(3.5).tickPadding(3.5));
  styleAxis(ay);
  title(627, 640, ['5. Training Efficiency Heatmap', 'Epochs vs Performance Level']);
  xLabel(627, 1137, 'Training Epochs');
  yLabel(404, 891, 'Performance Level');

  // colour bar
  const cb = {l: 776, r: 797, t: 676, b: 1106};
  const cy = d3.scaleLinear([0, 1], [cb.b, cb.t]);
  const grad = defs.append('linearGradient').attr('id', 'cbGrad').attr('x1', 0).attr('y1', 1).attr('x2', 0).attr('y2', 0);
  d3.range(0, 1.0001, 0.05).forEach(t => grad.append('stop').attr('offset', t).attr('stop-color', color(t)));
  svg.append('rect').attr('x', cb.l).attr('y', cb.t).attr('width', cb.r - cb.l).attr('height', cb.b - cb.t).attr('fill', 'white');
  svg.append('rect').attr('x', cb.l).attr('y', cb.t).attr('width', cb.r - cb.l).attr('height', cb.b - cb.t)
    .attr('fill', 'url(#cbGrad)').attr('opacity', 0.8);
  frame(cb);
  const ac = svg.append('g').attr('transform', `translate(${cb.r},0)`)
    .call(d3.axisRight(cy).tickValues([0, 0.2, 0.4, 0.6, 0.8, 1.0]).tickFormat(d3.format('.1f')).tickSize(3.5).tickPadding(3.5));
  styleAxis(ac);
  yLabel(835, 891, 'Performance Intensity', 12);
}
</script>
</body>
</html>
